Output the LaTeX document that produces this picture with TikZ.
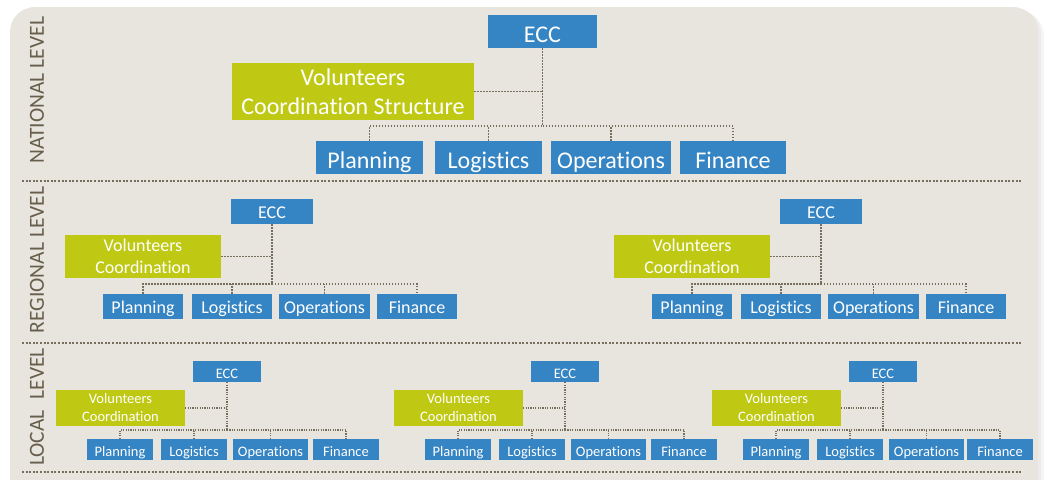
\documentclass[tikz,border=0pt]{standalone}
\usepackage{fontspec}
\setmainfont{Carlito}[Ligatures=NoCommon]
\usetikzlibrary{positioning}
\definecolor{eccblue}{HTML}{3584C3}
\definecolor{volgreen}{HTML}{BFC913}
\definecolor{paper}{HTML}{E8E5DF}
\definecolor{dots}{HTML}{786E5E}
\definecolor{levtext}{HTML}{675E4B}

\begin{document}
\begin{tikzpicture}[x=1pt,y=1pt,
        unit/.style={fill=eccblue, text=white, inner sep=0pt, text depth=0pt},
        vol/.style={fill=volgreen, text=white, inner sep=0pt, align=center},
        big/.style={font=\fontsize{24}{29}\selectfont, minimum height=33},
        mid/.style={font=\fontsize{18}{22}\selectfont, minimum height=25},
        small/.style={font=\fontsize{14.5}{18}\selectfont, minimum height=21},
        bigline/.style={text height=21.4pt},
        midline/.style={text height=13.6pt},
        smallline/.style={text height=13pt},
        link/.style={dots, line width=1.4pt, dash pattern=on 1.4pt off 1.6pt},
        thinlink/.style={dots, line width=1.1pt, dash pattern=on 1.1pt off 1.3pt},
        sep/.style={dots, line width=2pt, dash pattern=on 2pt off 1.6pt},
        level/.style={rotate=90, text=levtext, inner sep=0pt, font=\fontsize{21.5}{22}\selectfont}]
        \useasboundingbox (0,0) rectangle (1046,-479);
        % background
        \fill [black!4, rounded corners=25] (16,-11) rectangle (1044,-520);
        \fill [black!8, rounded corners=25] (13,-9) rectangle (1041,-520);
        \fill [paper, rounded corners=25] (10,-7) rectangle (1038,-520);
        \draw [sep] (22,-181) -- (1022,-181);
        \draw [sep] (22,-343) -- (1022,-343);
        \draw [sep] (22,-472) -- (1022,-472);
        \node [level] (natlab) at (37,-90) {NATIONAL LEVEL};
        \node [level] (reglab) at (37,-260) {REGIONAL LEVEL};
        \node [level] (loclab) at (37,-407) {LOCAL\enspace LEVEL};
        % national
        \node [unit, big, bigline, minimum width=109] (necc) at (542.5,-31.5) {ECC};
        \node [vol, big, minimum width=242, minimum height=57] (nvol) at (353,-91.5) {Volunteers\\Coordination Structure};
        \node [unit, big, bigline, minimum width=107] (nplan) at (369.5,-157.5) {Planning};
        \node [unit, big, bigline, minimum width=107] (nlog) at (488.5,-157.5) {Logistics};
        \node [unit, big, bigline, minimum width=120] (nops) at (611,-157.5) {Operations};
        \node [unit, big, bigline, minimum width=106] (nfin) at (733,-157.5) {Finance};
        \coordinate (nbus) at (542.5,-126);
        \draw [link] (necc) -- (nbus);
        \draw [link] (nvol) -- (nvol -| necc);
        \draw [link] (nplan) |- (nbus);
        \draw [link] (nbus) -| (nfin);
        \draw [link] (nlog) -- (nlog |- nbus);
        \draw [link] (nops) -- (nops |- nbus);
        % regional, left
        \node [unit, mid, midline, minimum width=82] (raecc) at (272,-211.5) {ECC};
        \node [vol, mid, minimum width=156, minimum height=43] (ravol) at (143,-256.5) {Volunteers\\Coordination};
        \node [unit, mid, midline, minimum width=80] (raplan) at (143,-306.5) {Planning};
        \node [unit, mid, midline, minimum width=80] (ralog) at (232,-306.5) {Logistics};
        \node [unit, mid, midline, minimum width=91] (raops) at (324.5,-306.5) {Operations};
        \node [unit, mid, midline, minimum width=80] (rafin) at (417,-306.5) {Finance};
        \coordinate (rabus) at (272,-284);
        \draw [link] (raecc) -- (rabus);
        \draw [link] (ravol) -- (ravol -| raecc);
        \draw [link] (raplan) |- (rabus);
        \draw [link] (rabus) -| (rafin);
        \draw [link] (ralog) -- (ralog |- rabus);
        \draw [link] (raops) -- (raops |- rabus);
        % regional, right
        \node [unit, mid, midline, minimum width=82] (rbecc) at (821,-211.5) {ECC};
        \node [vol, mid, minimum width=156, minimum height=43] (rbvol) at (692,-256.5) {Volunteers\\Coordination};
        \node [unit, mid, midline, minimum width=80] (rbplan) at (692,-306.5) {Planning};
        \node [unit, mid, midline, minimum width=80] (rblog) at (781,-306.5) {Logistics};
        \node [unit, mid, midline, minimum width=91] (rbops) at (873.5,-306.5) {Operations};
        \node [unit, mid, midline, minimum width=80] (rbfin) at (966,-306.5) {Finance};
        \coordinate (rbbus) at (821,-284);
        \draw [link] (rbecc) -- (rbbus);
        \draw [link] (rbvol) -- (rbvol -| rbecc);
        \draw [link] (rbplan) |- (rbbus);
        \draw [link] (rbbus) -| (rbfin);
        \draw [link] (rblog) -- (rblog |- rbbus);
        \draw [link] (rbops) -- (rbops |- rbbus);
        % local, first
        \node [unit, small, smallline, minimum width=68] (laecc) at (227,-371.5) {ECC};
        \node [vol, small, minimum width=129, minimum height=36] (lavol) at (120.5,-408) {Volunteers\\Coordination};
        \node [unit, small, smallline, minimum width=66] (laplan) at (120,-449.5) {Planning};
        \node [unit, small, smallline, minimum width=66] (lalog) at (194,-449.5) {Logistics};
        \node [unit, small, smallline, minimum width=75] (laops) at (270.5,-449.5) {Operations};
        \node [unit, small, smallline, minimum width=66] (lafin) at (346,-449.5) {Finance};
        \coordinate (labus) at (227,-430);
        \draw [thinlink] (laecc) -- (labus);
        \draw [thinlink] (lavol) -- (lavol -| laecc);
        \draw [thinlink] (laplan) |- (labus);
        \draw [thinlink] (labus) -| (lafin);
        \draw [thinlink] (lalog) -- (lalog |- labus);
        \draw [thinlink] (laops) -- (laops |- labus);
        % local, second
        \node [unit, small, smallline, minimum width=68] (lbecc) at (565,-371.5) {ECC};
        \node [vol, small, minimum width=129, minimum height=36] (lbvol) at (458.5,-408) {Volunteers\\Coordination};
        \node [unit, small, smallline, minimum width=66] (lbplan) at (458,-449.5) {Planning};
        \node [unit, small, smallline, minimum width=66] (lblog) at (532,-449.5) {Logistics};
        \node [unit, small, smallline, minimum width=75] (lbops) at (608.5,-449.5) {Operations};
        \node [unit, small, smallline, minimum width=66] (lbfin) at (684,-449.5) {Finance};
        \coordinate (lbbus) at (565,-430);
        \draw [thinlink] (lbecc) -- (lbbus);
        \draw [thinlink] (lbvol) -- (lbvol -| lbecc);
        \draw [thinlink] (lbplan) |- (lbbus);
        \draw [thinlink] (lbbus) -| (lbfin);
        \draw [thinlink] (lblog) -- (lblog |- lbbus);
        \draw [thinlink] (lbops) -- (lbops |- lbbus);
        % local, third
        \node [unit, small, smallline, minimum width=68] (lcecc) at (883,-371.5) {ECC};
        \node [vol, small, minimum width=129, minimum height=36] (lcvol) at (776.5,-408) {Volunteers\\Coordination};
        \node [unit, small, smallline, minimum width=66] (lcplan) at (776,-449.5) {Planning};
        \node [unit, small, smallline, minimum width=66] (lclog) at (850,-449.5) {Logistics};
        \node [unit, small, smallline, minimum width=75] (lcops) at (926.5,-449.5) {Operations};
        \node [unit, small, smallline, minimum width=66] (lcfin) at (1000,-449.5) {Finance};
        \coordinate (lcbus) at (883,-430);
        \draw [thinlink] (lcecc) -- (lcbus);
        \draw [thinlink] (lcvol) -- (lcvol -| lcecc);
        \draw [thinlink] (lcplan) |- (lcbus);
        \draw [thinlink] (lcbus) -| (lcfin);
        \draw [thinlink] (lclog) -- (lclog |- lcbus);
        \draw [thinlink] (lcops) -- (lcops |- lcbus);
\end{tikzpicture}
\end{document}
